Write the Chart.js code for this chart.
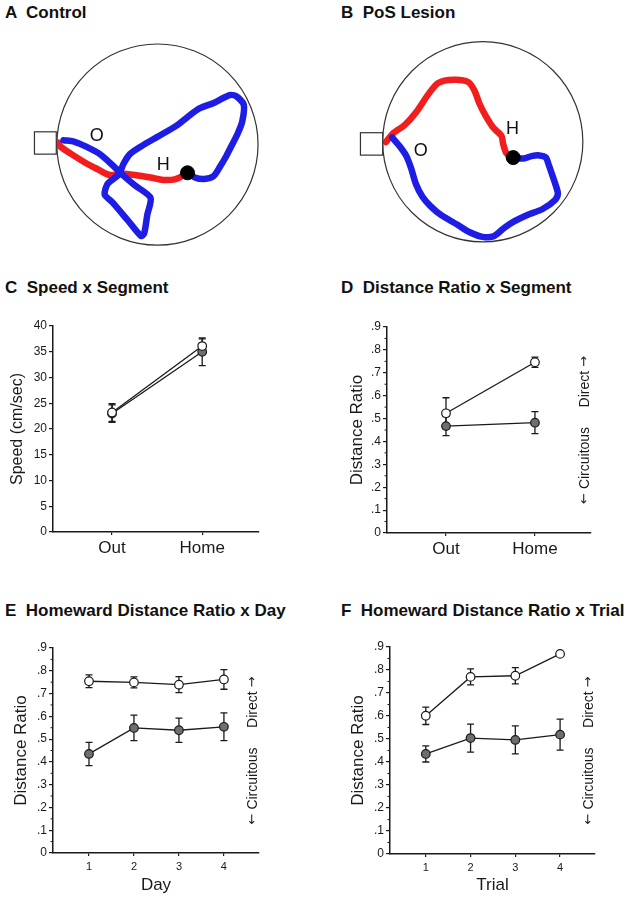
<!DOCTYPE html>
<html>
<head>
<meta charset="utf-8">
<script src="https://cdn.jsdelivr.net/npm/chart.js@4.4.1/dist/chart.umd.min.js"></script>
<style>
  body { margin: 0; background: #fff; }
  #page { position: relative; width: 626px; height: 900px; overflow: hidden; font-family: "Liberation Sans", Arial, sans-serif; }
  canvas { position: absolute; }
  .ttl { position: absolute; font-weight: bold; font-size: 17px; line-height: 1; white-space: pre; color: #111; }
</style>
</head>
<body>
<div id="page">
  <div class="ttl" style="left:5px;top:3.6px">A  Control</div>
  <div class="ttl" style="left:341px;top:3.6px">B  PoS Lesion</div>
  <div class="ttl" style="left:5px;top:278.6px">C  Speed x Segment</div>
  <div class="ttl" style="left:341px;top:278.6px">D  Distance Ratio x Segment</div>
  <div class="ttl" style="left:5px;top:601.6px">E  Homeward Distance Ratio x Day</div>
  <div class="ttl" style="left:341px;top:601.6px">F  Homeward Distance Ratio x Trial</div>
</div>
<script>
// ---- data ----
// arena paths, in arena units (centre 0,0, radius 100), y up
const ARENA_R = 100;
const pathAOut = [[-93.4,4.4],[-82.4,2.8],[-71.4,-1.9],[-57.2,-9.7],[-44.7,-20.8],[-35.2,-30.2],[-22.6,-41.2],
  [-6.9,-53.8],[-10.1,-71.1],[-13.2,-89.9],[-16.4,-92.5],[-28.9,-77.4],[-44.7,-58.5],[-52.5,-50.6],[-49.4,-39.6],
  [-38.4,-30.2],[-33.6,-19.2],[-27.4,-9.7],[-16.4,-1.9],[-0.6,7.5],[18.2,18.6],[40.3,35.8],[56.0,42.1],[71.7,50.0],
  [78.0,49.1],[85.8,40.6],[84.3,23.3],[79.6,10.7],[73.3,-1.9],[68.6,-11.3],[62.3,-22.3],[56.0,-31.8],[46.5,-34.9],
  [37.1,-33.3],[29.9,-28.6]];
const pathAHome = [[27.7,-30.2],[18.2,-34.9],[5.7,-35.8],[-6.9,-33.3],[-22.6,-30.8],[-35.2,-29.6],[-47.8,-30.8],
  [-60.4,-24.5],[-73.0,-17.6],[-85.5,-9.7],[-96.5,-1.9],[-98.7,1.9]];
const platformA = [29.9, -28.6];

const pathBOut = [[-90.5,4.4],[-82.6,-5.1],[-76.3,-14.6],[-71.5,-27.2],[-66.8,-43.0],[-60.4,-55.7],[-52.5,-65.2],
  [-41.5,-74.7],[-25.6,-84.2],[-13.0,-92.1],[-0.3,-96.8],[10.8,-96.2],[21.8,-87.3],[31.3,-81.0],[44.0,-74.7],
  [59.8,-68.4],[72.5,-58.9],[75.0,-52.5],[72.5,-43.0],[69.3,-33.5],[66.1,-24.1],[63.0,-16.1],[56.6,-13.9],
  [48.7,-14.6],[40.8,-17.1],[31.3,-16.1]];
const pathBHome = [[28.2,-16.1],[23.4,-11.4],[20.3,-1.9],[18.7,6.0],[10.8,13.9],[2.8,26.6],[-3.5,39.2],[-8.2,51.9],
  [-14.6,60.8],[-28.8,63.0],[-44.6,59.8],[-54.1,48.7],[-66.8,29.7],[-77.8,17.1],[-88.9,9.2],[-96.8,-0.3]];
const platformB = [30.4, -16.1];

const segments = ['Out', 'Home'];
const segmentX = [1, 2];
const speedCtrl = [23.2, 36.1];
const speedCtrlErr = [1.7, 1.4];
const speedPoS = [23.0, 35.0];
const speedPoSErr = [1.7, 2.7];
const speedTicks = [0, 5, 10, 15, 20, 25, 30, 35, 40];

const segRatioCtrl = [0.523, 0.746];
const segRatioCtrlErr = [0.068, 0.022];
const segRatioPoS = [0.467, 0.482];
const segRatioPoSErr = [0.042, 0.048];
const ratioTicks = [0, 0.1, 0.2, 0.3, 0.4, 0.5, 0.6, 0.7, 0.8, 0.9];

const days = [1, 2, 3, 4];
const dayCtrl = [0.754, 0.749, 0.739, 0.762];
const dayCtrlErr = [0.028, 0.024, 0.035, 0.043];
const dayPoS = [0.435, 0.549, 0.539, 0.554];
const dayPoSErr = [0.051, 0.056, 0.053, 0.061];

const trials = [1, 2, 3, 4];
const trialCtrl = [0.601, 0.770, 0.775, 0.870];
const trialCtrlErr = [0.038, 0.035, 0.035, 0.008];
const trialPoS = [0.435, 0.504, 0.496, 0.519];
const trialPoSErr = [0.035, 0.061, 0.061, 0.067];

// ---- styling ----
const FONT = '"Liberation Sans", Arial, sans-serif';
const ARROW_FONT = '"DejaVu Sans", sans-serif';
const INK = '#1a1a1a';
const POS_FILL = '#6e6e6e';
const RED = '#f21d1d';
const BLUE = '#1d1de6';
const page = document.getElementById('page');

function makeCanvas(box) {
  const c = document.createElement('canvas');
  c.width = box.w; c.height = box.h;
  c.style.left = box.x + 'px'; c.style.top = box.y + 'px';
  c.style.width = box.w + 'px'; c.style.height = box.h + 'px';
  page.appendChild(c);
  return c;
}

// ---- arena panels (A, B) ----
const arena = {
  id: 'arena',
  beforeDatasetsDraw(chart) {
    const { ctx, scales: { x, y } } = chart;
    const cx = x.getPixelForValue(0), cy = y.getPixelForValue(0);
    const r = x.getPixelForValue(ARENA_R) - cx;
    ctx.save();
    ctx.strokeStyle = '#333';
    ctx.lineWidth = 1.2;
    ctx.beginPath();
    ctx.arc(cx, cy, r, 0, Math.PI * 2);
    ctx.stroke();
    ctx.restore();
  },
  afterDatasetsDraw(chart, args, opts) {
    const { ctx, scales: { x, y } } = chart;
    const [x0, y0, x1, y1] = opts.box;
    const l = x.getPixelForValue(x0), t = y.getPixelForValue(y0);
    const w = x.getPixelForValue(x1) - l, h = y.getPixelForValue(y1) - t;
    ctx.save();
    ctx.fillStyle = '#fff';
    ctx.fillRect(l, t, w, h);
    ctx.strokeStyle = '#333';
    ctx.lineWidth = 1.2;
    ctx.strokeRect(l, t, w, h);
    ctx.fillStyle = '#111';
    ctx.font = '18px ' + FONT;
    ctx.textAlign = 'center';
    ctx.textBaseline = 'middle';
    opts.labels.forEach(([txt, lx, ly]) => ctx.fillText(txt, x.getPixelForValue(lx), y.getPixelForValue(ly)));
    ctx.restore();
  }
};

function arenaPanel(box, range, outPath, homePath, platform, startBox, labels) {
  const toXY = p => p.map(([x, y]) => ({ x, y }));
  const pathStyle = { pointRadius: 0, borderWidth: 6.5, borderCapStyle: 'round', borderJoinStyle: 'round', tension: 0.25, fill: false };
  return new Chart(makeCanvas(box), {
    type: 'line',
    data: {
      datasets: [
        { data: toXY([platform]), showLine: false, pointRadius: 7, pointBackgroundColor: '#000', pointBorderColor: '#000' },
        { data: toXY(outPath), borderColor: BLUE, ...pathStyle },
        { data: toXY(homePath), borderColor: RED, ...pathStyle }
      ]
    },
    options: {
      responsive: false, animation: false,
      layout: { padding: 0 },
      plugins: { legend: { display: false }, tooltip: { enabled: false }, arena: { box: startBox, labels } },
      scales: {
        x: { type: 'linear', display: false, min: range[0], max: range[1] },
        y: { type: 'linear', display: false, min: range[2], max: range[3] }
      }
    },
    plugins: [arena]
  });
}

arenaPanel({ x: 0, y: 28, w: 313, h: 234 }, [-148.6, 146.7, -110.8, 109.9], pathAOut, pathAHome, platformA,
  [-122.3, 12.9, -100.6, -9.7], [['O', -60.4, 9.1], ['H', 5.7, -20.8]]);
arenaPanel({ x: 313, y: 28, w: 313, h: 234 }, [-161.6, 135.1, -114.2, 107.6], pathBOut, pathBHome, platformB,
  [-122.2, 9.2, -100, -13.6], [['O', -62.0, -9.8], ['H', 29.7, 13.0]]);

// ---- line panels (C-F) ----
const errorBars = {
  id: 'errorBars',
  beforeDatasetsDraw(chart) {
    const { ctx, scales: { x, y } } = chart;
    ctx.save();
    ctx.strokeStyle = INK;
    ctx.lineWidth = 1.3;
    chart.data.datasets.forEach(ds => {
      ds.data.forEach((p, i) => {
        const px = x.getPixelForValue(p.x);
        const hi = y.getPixelForValue(p.y + ds.err[i]);
        const lo = y.getPixelForValue(p.y - ds.err[i]);
        ctx.beginPath();
        ctx.moveTo(px, hi); ctx.lineTo(px, lo);
        ctx.moveTo(px - 3.5, hi); ctx.lineTo(px + 3.5, hi);
        ctx.moveTo(px - 3.5, lo); ctx.lineTo(px + 3.5, lo);
        ctx.stroke();
      });
    });
    ctx.restore();
  }
};

// rotated "← Circuitous   Direct →" note, drawn in pieces so the arrows use a font that has them
function drawNote(ctx) {
  const parts = [
    ['\u2190', '13px ' + ARROW_FONT],
    [' Circuitous     Direct ', '14px ' + FONT],
    ['\u2192', '13px ' + ARROW_FONT]
  ];
  let total = 0;
  const widths = parts.map(([t, f]) => { ctx.font = f; const w = ctx.measureText(t).width; total += w; return w; });
  let pos = -total / 2;
  ctx.textAlign = 'left';
  ctx.textBaseline = 'middle';
  parts.forEach(([t, f], i) => { ctx.font = f; ctx.fillText(t, pos, 0); pos += widths[i]; });
}

const extras = {
  id: 'extras',
  afterDraw(chart, args, opts) {
    const { ctx, chartArea: a, scales: { y } } = chart;
    ctx.save();
    // minor ticks on the y axis
    (opts.minor || []).forEach(v => {
      const py = y.getPixelForValue(v);
      ctx.strokeStyle = INK; ctx.lineWidth = 1;
      ctx.beginPath(); ctx.moveTo(a.left, py); ctx.lineTo(a.left - 2.5, py); ctx.stroke();
    });
    if (opts.note) {
      ctx.translate(a.right - 6, (a.top + a.bottom) / 2);
      ctx.rotate(-Math.PI / 2);
      ctx.fillStyle = INK;
      drawNote(ctx);
    }
    ctx.restore();
    // inline legend
    if (opts.legend) {
      ctx.save();
      chart.data.datasets.forEach((ds, i) => {
        const lx = opts.legend.x, ly = opts.legend.y + i * 20;
        ctx.strokeStyle = INK; ctx.lineWidth = 1.3;
        ctx.beginPath(); ctx.moveTo(lx - 11, ly); ctx.lineTo(lx + 11, ly); ctx.stroke();
        ctx.beginPath(); ctx.arc(lx, ly, 4.3, 0, Math.PI * 2);
        ctx.fillStyle = ds.pointBackgroundColor; ctx.fill();
        ctx.lineWidth = 1.2; ctx.stroke();
        ctx.fillStyle = INK; ctx.font = '12px ' + FONT;
        ctx.textAlign = 'left'; ctx.textBaseline = 'middle';
        ctx.fillText(ds.label, lx + 20, ly);
      });
      ctx.restore();
    }
  }
};

function series(label, xs, ys, err, fill) {
  return {
    label, err,
    data: xs.map((x, i) => ({ x, y: ys[i] })),
    borderColor: INK, borderWidth: 1.3, tension: 0, fill: false,
    pointRadius: 4.3, pointBackgroundColor: fill, pointBorderColor: INK, pointBorderWidth: 1.2
  };
}

function linePanel(box, area, c) {
  const xHeight = box.y + box.h - area.b;
  const yWidth = area.l - box.x;
  return new Chart(makeCanvas(box), {
    type: 'line',
    data: { datasets: c.datasets },
    options: {
      responsive: false, animation: false,
      layout: { padding: { left: 0, top: area.t - box.y, right: box.x + box.w - area.r, bottom: 0 } },
      plugins: { legend: { display: false }, tooltip: { enabled: false }, extras: c.extras },
      scales: {
        x: {
          type: 'linear', min: c.xMin, max: c.xMax,
          afterBuildTicks: s => { s.ticks = c.xTicks.map(v => ({ value: v })); },
          afterFit: s => { s.height = xHeight; },
          ticks: { callback: c.xLabel, font: { size: c.xFont, family: FONT }, color: INK, padding: c.xPad, maxRotation: 0, autoSkip: false },
          grid: { display: true, drawOnChartArea: false, drawTicks: true, tickLength: 3, color: INK, lineWidth: 1.2 },
          border: { display: true, color: INK, width: 1.5 },
          title: c.xTitle
            ? { display: true, text: c.xTitle, font: { size: 17, family: FONT }, color: INK, padding: { top: 0, bottom: 4.8 } }
            : { display: false }
        },
        y: {
          type: 'linear', min: c.yMin, max: c.yMax,
          afterBuildTicks: s => { s.ticks = c.yTicks.map(v => ({ value: v })); },
          afterFit: s => { s.width = yWidth; },
          ticks: { callback: c.yLabel, font: { size: 12, family: FONT }, color: INK, padding: 2, autoSkip: false },
          grid: { display: true, drawOnChartArea: false, drawTicks: true, tickLength: 4, color: INK, lineWidth: 1.2 },
          border: { display: true, color: INK, width: 1.5 },
          title: { display: true, text: c.yTitle, font: { size: c.yTitleSize, family: FONT }, color: INK, padding: { top: c.yTitlePad, bottom: 0 } }
        }
      }
    },
    plugins: [errorBars, extras]
  });
}

const segLabel = v => segments[segmentX.indexOf(v)];
const ratioLabel = v => (v === 0 ? '0' : '.' + Math.round(v * 10));
const ratioMinor = ratioTicks.slice(1).map(v => v - 0.05);

linePanel({ x: 0, y: 300, w: 305, h: 275 }, { l: 53, t: 326, r: 259, b: 532 }, {
  datasets: [series('Control', segmentX, speedCtrl, speedCtrlErr, '#fff'), series('PoS', segmentX, speedPoS, speedPoSErr, POS_FILL)],
  xMin: 0.345, xMax: 2.63, xTicks: segmentX, xLabel: segLabel, xFont: 17, xPad: 3,
  yMin: 0, yMax: 40, yTicks: speedTicks, yLabel: v => v,
  yTitle: 'Speed (cm/sec)', yTitleSize: 16, yTitlePad: 8.4,
  extras: { legend: { x: 86, y: 342 } }
});

linePanel({ x: 313, y: 300, w: 313, h: 275 }, { l: 387, t: 327, r: 591, b: 533 }, {
  datasets: [series('Control', segmentX, segRatioCtrl, segRatioCtrlErr, '#fff'), series('PoS', segmentX, segRatioPoS, segRatioPoSErr, POS_FILL)],
  xMin: 0.337, xMax: 2.63, xTicks: segmentX, xLabel: segLabel, xFont: 17, xPad: 3,
  yMin: 0, yMax: 0.9, yTicks: ratioTicks, yLabel: ratioLabel,
  yTitle: 'Distance Ratio', yTitleSize: 17, yTitlePad: 33.8,
  extras: { note: true, minor: ratioMinor }
});

linePanel({ x: 0, y: 620, w: 305, h: 280 }, { l: 53, t: 648, r: 259, b: 853 }, {
  datasets: [series('Control', days, dayCtrl, dayCtrlErr, '#fff'), series('PoS', days, dayPoS, dayPoSErr, POS_FILL)],
  xMin: 0.2, xMax: 4.78, xTicks: days, xLabel: v => v, xFont: 11, xPad: 4, xTitle: 'Day',
  yMin: 0, yMax: 0.9, yTicks: ratioTicks, yLabel: ratioLabel,
  yTitle: 'Distance Ratio', yTitleSize: 17, yTitlePad: 10.8,
  extras: { note: true, minor: ratioMinor }
});

linePanel({ x: 313, y: 620, w: 313, h: 280 }, { l: 390, t: 647, r: 595, b: 854 }, {
  datasets: [series('Control', trials, trialCtrl, trialCtrlErr, '#fff'), series('PoS', trials, trialPoS, trialPoSErr, POS_FILL)],
  xMin: 0.2, xMax: 4.78, xTicks: trials, xLabel: v => v, xFont: 11, xPad: 4, xTitle: 'Trial',
  yMin: 0, yMax: 0.9, yTicks: ratioTicks, yLabel: ratioLabel,
  yTitle: 'Distance Ratio', yTitleSize: 17, yTitlePad: 34.8,
  extras: { note: true, minor: ratioMinor }
});
</script>
</body>
</html>
